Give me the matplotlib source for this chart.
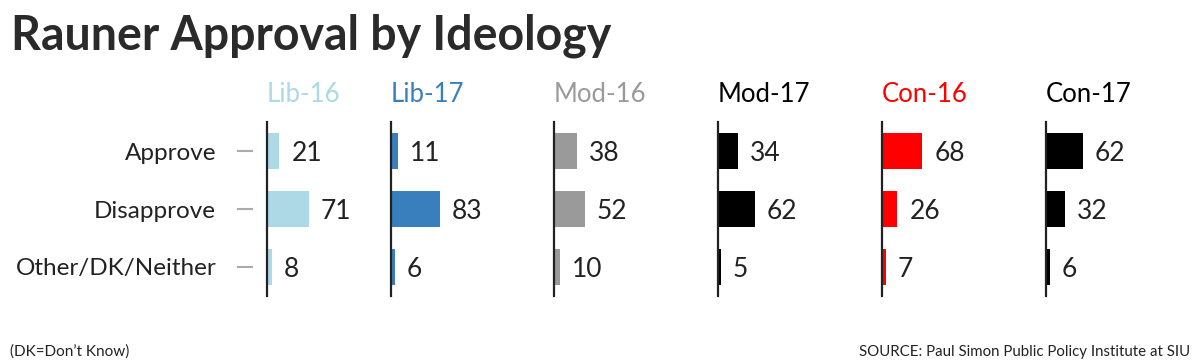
import matplotlib
matplotlib.use("Agg")
import matplotlib.pyplot as plt

plt.rcParams['font.family'] = ['Lato', 'DejaVu Sans']

categories = ["Approve", "Disapprove", "Other/DK/Neither"]
groups = ["Lib-16", "Lib-17", "Mod-16", "Mod-17", "Con-16", "Con-17"]
lib16 = [21, 71, 8]
lib17 = [11, 83, 6]
mod16 = [38, 52, 10]
mod17 = [34, 62, 5]
con16 = [68, 26, 7]
con17 = [62, 32, 6]
series = [lib16, lib17, mod16, mod17, con16, con17]
colors = ["#add8e6", "#3a7fbd", "#9a9a9a", "#000000", "#ff0000", "#000000"]

W, H = 1200, 362
fig = plt.figure(figsize=(W / 100, H / 100), dpi=100)

def fx(px):
    return px / W

def fy(py):
    return 1 - py / H

axis_x = [267, 391, 554, 718, 882, 1046]
top_px, bot_px = 122, 296
panel_w = 110
px_per_unit = 0.593
text_color = "#222222"

# label axes for category names + tick marks
lab_ax = fig.add_axes([fx(253), fy(bot_px), fx(1), (bot_px - top_px) / H])
lab_ax.set_ylim(2.5, -0.5)
lab_ax.set_xlim(0, 1)
for s in lab_ax.spines.values():
    s.set_visible(False)
lab_ax.set_xticks([])
lab_ax.set_yticks(range(len(categories)))
lab_ax.set_yticklabels(categories, fontsize=17.5, color=text_color)
lab_ax.tick_params(axis='y', length=11.5, width=1.5, color="#aaaaaa", pad=15)
lab_ax.patch.set_alpha(0)

for g, vals, c, x0 in zip(groups, series, colors, axis_x):
    ax = fig.add_axes([fx(x0), fy(bot_px), fx(panel_w), (bot_px - top_px) / H])
    ax.barh(range(len(vals)), vals, height=36 / 58, color=c, left=0)
    ax.set_xlim(0, panel_w / px_per_unit)
    ax.set_ylim(2.5, -0.5)
    for k, s in ax.spines.items():
        s.set_visible(k == 'left')
    ax.spines['left'].set_linewidth(1.6)
    ax.spines['left'].set_color(text_color)
    ax.set_xticks([])
    ax.set_yticks([])
    ax.patch.set_alpha(0)
    for i, v in enumerate(vals):
        ax.annotate(str(v), xy=(v, i), xytext=(8.6, 0), textcoords='offset points',
                    ha='left', va='center_baseline', fontsize=19, color=text_color,
                    annotation_clip=False)
    fig.text(fx(x0), fy(102), g, ha='left', va='baseline', fontsize=18.5, color=c)

fig.text(fx(11), fy(50), "Rauner Approval by Ideology", ha='left', va='baseline',
         fontsize=33.5, fontweight='bold', color="#2a2a2a")
fig.text(fx(10), fy(356), "(DK=Don\u2019t Know)", ha='left', va='baseline',
         fontsize=11, color=text_color)
fig.text(fx(1190), fy(356), "SOURCE: Paul Simon Public Policy Institute at SIU",
         ha='right', va='baseline', fontsize=10.8, color=text_color)

fig.savefig("out.png", dpi=100)
